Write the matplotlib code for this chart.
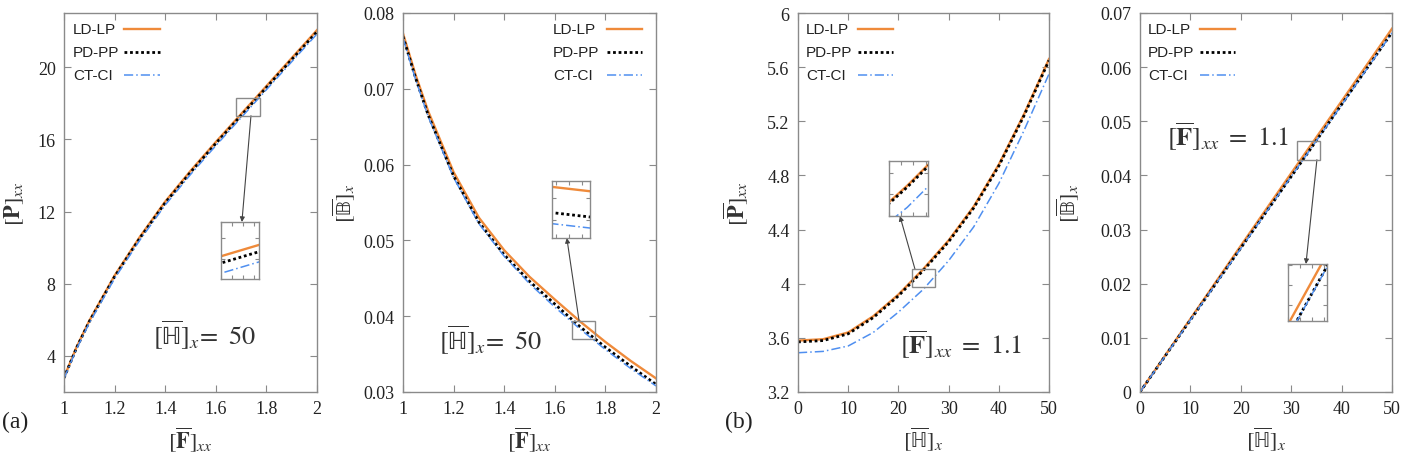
import numpy as np
import matplotlib
matplotlib.use('Agg')
import matplotlib.pyplot as plt
from matplotlib.patches import Rectangle
from matplotlib.lines import Line2D
from matplotlib.ticker import FixedLocator, FormatStrFormatter, MaxNLocator

plt.rcParams['font.family'] = ['Liberation Serif', 'DejaVu Serif']
plt.rcParams['mathtext.fontset'] = 'stix'

# ---- data ----
# (a) left: [P]xx vs [F]xx, H = 50
F_a = [1.0, 1.05, 1.1, 1.2, 1.3, 1.4, 1.5, 1.6, 1.7, 1.8, 1.9, 2.0]
P_LD_a = [2.80, 4.50, 5.95, 8.45, 10.60, 12.55, 14.25, 15.85, 17.40, 18.95, 20.50, 22.05]
P_PD_a = [2.78, 4.46, 5.90, 8.39, 10.53, 12.48, 14.17, 15.77, 17.32, 18.87, 20.42, 21.96]
P_CT_a = [2.74, 4.40, 5.82, 8.29, 10.42, 12.36, 14.05, 15.65, 17.20, 18.75, 20.30, 21.84]

# (a) right: [B]x vs [F]xx, H = 50
F_b = [1.0, 1.05, 1.1, 1.2, 1.3, 1.4, 1.5, 1.6, 1.7, 1.8, 1.9, 2.0]
B_LD_b = [0.0773, 0.0718, 0.0670, 0.0590, 0.0530, 0.0487, 0.0452, 0.0422, 0.0393, 0.0366, 0.0341, 0.0318]
B_PD_b = [0.0769, 0.0714, 0.0665, 0.0585, 0.0524, 0.0481, 0.0446, 0.0416, 0.0386, 0.0359, 0.0334, 0.0310]
B_CT_b = [0.0767, 0.0712, 0.0663, 0.0583, 0.0522, 0.0479, 0.0443, 0.0412, 0.0383, 0.0356, 0.0331, 0.0308]

# (b) left: [P]xx vs [H]x, F = 1.1
H_c = [0, 5, 10, 15, 20, 25, 30, 35, 40, 45, 50]
P_LD_c = [3.58, 3.59, 3.64, 3.76, 3.92, 4.11, 4.32, 4.57, 4.88, 5.25, 5.66]
P_PD_c = [3.57, 3.58, 3.63, 3.75, 3.91, 4.10, 4.31, 4.56, 4.87, 5.24, 5.65]
P_CT_c = [3.49, 3.50, 3.54, 3.64, 3.79, 3.96, 4.17, 4.42, 4.74, 5.13, 5.55]

# (b) right: [B]x vs [H]x, F = 1.1
H_d = [0, 10, 20, 30, 40, 50]
B_LD_d = [0.0, 0.0135, 0.0270, 0.0404, 0.0537, 0.0671]
B_PD_d = [0.0, 0.0133, 0.0266, 0.0398, 0.0531, 0.0664]
B_CT_d = [0.0, 0.0133, 0.0265, 0.0398, 0.0530, 0.0663]

labels = ['LD-LP', 'PD-PP', 'CT-CI']
c_or = '#ef8a3a'
c_bl = '#4f8ff0'
gray = '#8a8a8a'
line_kw = [dict(color=c_or, lw=1.7, ls='-'),
           dict(color='black', lw=2.0, ls=(0, (1, 1))),
           dict(color=c_bl, lw=1.1, ls=(0, (6, 2, 1, 2)))]

W, H = 1404, 456
fig = plt.figure(figsize=(W / 100, H / 100), dpi=100)


def px_axes(x0, y0, x1, y1):
    # pixel box (top-left origin) -> figure axes
    return fig.add_axes([x0 / W, 1 - y1 / H, (x1 - x0) / W, (y1 - y0) / H])


def style(ax, inset=False):
    for s in ax.spines.values():
        s.set_color(gray)
        s.set_linewidth(1.0)
    ax.tick_params(direction='in', top=True, right=True, color=gray,
                   length=3 if inset else 5, width=0.8,
                   labelsize=13, labelcolor='#222222', pad=6)
    if inset:
        ax.tick_params(labelbottom=False, labelleft=False)


def draw(ax, x, ys):
    for y, kw, lab in zip(ys, line_kw, labels):
        ax.plot(x, y, label=lab, **kw)


def key(ax, tx, l0, l1):
    # gnuplot-style key: left aligned text, sample line at fixed place
    for i, (lab, kw) in enumerate(zip(labels, line_kw)):
        yy = 0.958 - i * 0.061
        ax.text(tx, yy, lab, transform=ax.transAxes, ha='left', va='center',
                family=['Liberation Sans', 'DejaVu Sans'], fontsize=11, color='#222222')
        ax.add_line(Line2D([l0, l1], [yy, yy], transform=ax.transAxes, **kw))


def inset(ax, box, pos, x, ys, xlim, ylim, arrow_from, arrow_to):
    ax.add_patch(Rectangle((box[0], box[2]), box[1] - box[0], box[3] - box[2],
                           fill=False, ec=gray, lw=1.0, zorder=5))
    ins = px_axes(*pos)
    draw(ins, x, ys)
    ins.set_xlim(*xlim)
    ins.set_ylim(*ylim)
    ins.xaxis.set_major_locator(MaxNLocator(4))
    ins.yaxis.set_major_locator(MaxNLocator(3))
    style(ins, inset=True)
    ax.annotate('', xy=arrow_to, xycoords=ins.transAxes,
                xytext=arrow_from, textcoords='data',
                arrowprops=dict(arrowstyle='-|>', color='#444444', lw=0.8,
                                mutation_scale=7, shrinkA=0, shrinkB=0))
    return ins


# upright double-struck letters
HH = r'\mathrm{ℍ}'
BB = r'\mathrm{𝔹}'
xlab_F = r'$[\overline{\mathbf{F}}]_{xx}$'
xlab_H = r'$[\overline{%s}]_{x}$' % HH
ylab_P = r'$[\overline{\mathbf{P}}]_{xx}$'
ylab_B = r'$[\overline{%s}]_{x}$' % BB
txt_H = r'$[\overline{%s}]_x\!=\ 50$' % HH
txt_F = r'$[\overline{\mathbf{F}}]_{xx}\ =\ 1.1$'

# ---- panel 1 ----
ax1 = px_axes(64, 14, 317, 393)
draw(ax1, F_a, [P_LD_a, P_PD_a, P_CT_a])
ax1.set_xlim(1, 2)
ax1.set_ylim(2, 23)
ax1.xaxis.set_major_locator(FixedLocator([1, 1.2, 1.4, 1.6, 1.8, 2]))
ax1.yaxis.set_major_locator(FixedLocator([4, 8, 12, 16, 20]))
ax1.xaxis.set_major_formatter(FormatStrFormatter('%g'))
ax1.yaxis.set_major_formatter(FormatStrFormatter('%g'))
style(ax1)
key(ax1, 0.036, 0.237, 0.379)
ax1.text(1.557, 5.2, txt_H, fontsize=19, ha='center', va='center', color='#333333')
inset(ax1, (1.680, 1.775, 17.31, 18.27), (221, 223, 259, 280),
      F_a, [P_LD_a, P_PD_a, P_CT_a], (1.725, 1.7336), (17.52, 18.19),
      (1.739, 17.31), (0.55, 1.0))

# ---- panel 2 ----
ax2 = px_axes(403, 14, 656, 393)
draw(ax2, F_b, [B_LD_b, B_PD_b, B_CT_b])
ax2.set_xlim(1, 2)
ax2.set_ylim(0.03, 0.08)
ax2.xaxis.set_major_locator(FixedLocator([1, 1.2, 1.4, 1.6, 1.8, 2]))
ax2.yaxis.set_major_locator(FixedLocator([0.03, 0.04, 0.05, 0.06, 0.07, 0.08]))
ax2.xaxis.set_major_formatter(FormatStrFormatter('%g'))
ax2.yaxis.set_major_formatter(FormatStrFormatter('%g'))
style(ax2)
key(ax2, 0.593, 0.806, 0.945)
ax2.text(1.344, 0.0370, txt_H, fontsize=19, ha='center', va='center', color='#333333')
inset(ax2, (1.668, 1.759, 0.03699, 0.03937), (552, 182, 590, 239),
      F_b, [B_LD_b, B_PD_b, B_CT_b], (1.70, 1.7044), (0.03791, 0.03946),
      (1.696, 0.03937), (0.39, 0.0))

# ---- panel 3 ----
ax3 = px_axes(798, 14, 1049, 393)
draw(ax3, H_c, [P_LD_c, P_PD_c, P_CT_c])
ax3.set_xlim(0, 50)
ax3.set_ylim(3.2, 6)
ax3.xaxis.set_major_locator(FixedLocator([0, 10, 20, 30, 40, 50]))
ax3.yaxis.set_major_locator(FixedLocator([3.2, 3.6, 4, 4.4, 4.8, 5.2, 5.6, 6]))
ax3.yaxis.set_major_formatter(FormatStrFormatter('%g'))
style(ax3)
key(ax3, 0.032, 0.239, 0.378)
ax3.text(32.5, 3.555, txt_F, fontsize=19, ha='center', va='center', color='#333333')
inset(ax3, (22.65, 27.3, 3.975, 4.108), (889, 162, 928, 217),
      H_c, [P_LD_c, P_PD_c, P_CT_c], (22, 28.4), (3.90, 4.28),
      (23.3, 4.108), (0.28, 0.0))

# ---- panel 4 ----
ax4 = px_axes(1140, 14, 1392, 393)
draw(ax4, H_d, [B_LD_d, B_PD_d, B_CT_d])
ax4.set_xlim(0, 50)
ax4.set_ylim(0, 0.07)
ax4.xaxis.set_major_locator(FixedLocator([0, 10, 20, 30, 40, 50]))
ax4.yaxis.set_major_locator(FixedLocator([0, 0.01, 0.02, 0.03, 0.04, 0.05, 0.06, 0.07]))
ax4.yaxis.set_major_formatter(FormatStrFormatter('%g'))
style(ax4)
key(ax4, 0.032, 0.238, 0.377)
ax4.text(17.5, 0.0473, txt_F, fontsize=19, ha='center', va='center', color='#333333')
inset(ax4, (31.15, 35.7, 0.0429, 0.0464), (1288, 265, 1327, 322),
      H_d, [B_LD_d, B_PD_d, B_CT_d], (32, 34.6), (0.04323, 0.04603),
      (35.1, 0.0429), (0.46, 1.0))

# axis labels (offsets in pixels from the axes frame)
for ax, xl, yl, yoff in [(ax1, xlab_F, ylab_P, -37), (ax2, xlab_F, ylab_B, -45),
                         (ax3, xlab_H, ylab_P, -47), (ax4, xlab_H, ylab_B, -58)]:
    ax.set_xlabel(xl, fontsize=16, color='#333333')
    ax.set_ylabel(yl, fontsize=16, color='#333333')
    w = ax.get_position().width * W
    ax.yaxis.set_label_coords(yoff / w, 0.5)
    ax.xaxis.set_label_coords(0.5, -33 / 379)

fig.text(2 / W, 1 - 422 / H, '(a)', fontsize=17, ha='left', va='center', color='#222222')
fig.text(725 / W, 1 - 422 / H, '(b)', fontsize=17, ha='left', va='center', color='#222222')

fig.savefig('out.png', dpi=100)
